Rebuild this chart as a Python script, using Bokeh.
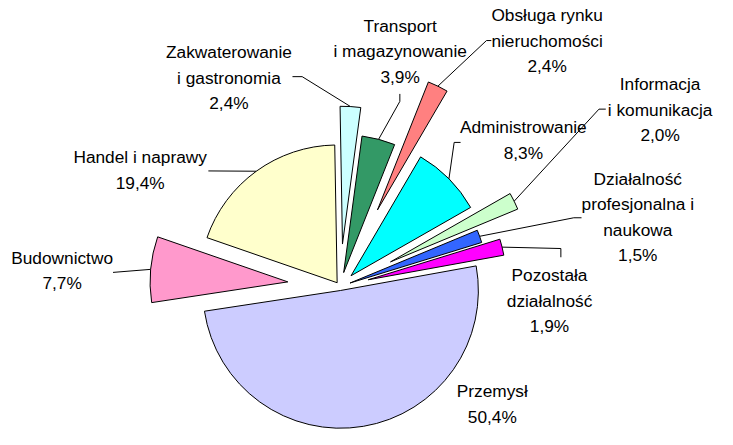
import numpy as np
from bokeh.plotting import figure
from bokeh.models import Range1d, ColumnDataSource
from bokeh.core.properties import value
from bokeh.embed import file_html
from bokeh.resources import INLINE

# ---------------- data (clockwise from 12 o'clock) ----------------
categories = [
    "Zakwaterowanie\ni gastronomia",
    "Transport\ni magazynowanie",
    "Obsługa rynku\nnieruchomości",
    "Administrowanie",
    "Informacja\ni komunikacja",
    "Działalność\nprofesjonalna i\nnaukowa",
    "Pozostała\ndziałalność",
    "Przemysł",
    "Budownictwo",
    "Handel i naprawy",
]
shares = [2.4, 3.9, 2.4, 8.3, 2.0, 1.5, 1.9, 50.4, 7.7, 19.4]

# ---------------- styles / layout ----------------
colors = ["#CCFFFF", "#339966", "#FF8080", "#00FFFF", "#CCFFCC",
          "#3366FF", "#FF00FF", "#CCCCFF", "#FF99CC", "#FFFFCC"]
explode = [44, 15, 88, 16, 58, 11, 30, 4, 54, 5]   # offset of each slice (px)
RADIUS = 142
FIRST_ANGLE = -1.0          # degrees clockwise from 12 o'clock
CENTER = (349, 297)         # pie centre in picture pixels
S = 0.97                    # picture px -> screen px
W, H = 717, 429
ORIGIN = (-1, 2)            # picture px shown at the top-left corner

# label anchors: centre x / middle of first line y (picture px)
label_pos = [(234.5, 55.5), (411, 27.8), (562.5, 17), (538, 132.5),
             (679, 88.3), (656, 185.8), (565, 285), (506, 405),
             (62.5, 267), (143, 163.7)]
# leader points from the text side (picture px); the slice end is computed
leader_pts = [[(300, 80.5), (310, 80.5)],
              [(410.7, 98.3), (410.7, 106)],
              [(505, 43.3), (500, 43.3)],
              [(473.3, 148.3), (466.7, 148.3)],
              [(623, 114), (616, 114)],
              [(598, 226), (590, 226)],
              [(576.7, 266.7), (576.7, 257.7)],
              [],
              [(115, 282.3)],
              [(213.3, 177.7)]]
LINE_STEP = 26.3
FONT = "Liberation Sans"
FONT_SIZE = 17.8 * S


def to_data(px, py):
    return px - CENTER[0], CENTER[1] - py


vals = np.array(shares, dtype=float)
bounds = FIRST_ANGLE + np.concatenate([[0], np.cumsum(vals)]) / vals.sum() * 360.0
theta_a, theta_b = bounds[:-1], bounds[1:]
start = np.radians(90 - theta_b)
end = np.radians(90 - theta_a)
mid = np.radians(90 - (theta_a + theta_b) / 2)
ex = np.array(explode, dtype=float)
cx = ex * np.cos(mid)
cy = ex * np.sin(mid)

x0 = ORIGIN[0] - CENTER[0]
x1 = x0 + W / S
y1 = CENTER[1] - ORIGIN[1]
y0 = y1 - H / S

p = figure(width=W, height=H, x_range=Range1d(x0, x1), y_range=Range1d(y0, y1),
           x_axis_type=None, y_axis_type=None, toolbar_location=None,
           output_backend="svg", min_border=0, outline_line_color=None,
           background_fill_color="white", border_fill_color="white")
p.xgrid.visible = False
p.ygrid.visible = False

src = ColumnDataSource(dict(x=cx, y=cy, start=start, end=end, color=colors))
p.wedge(x="x", y="y", radius=RADIUS, start_angle="start", end_angle="end",
        fill_color="color", line_color="black", line_width=1, source=src)

# leader lines
for i, pts in enumerate(leader_pts):
    if not pts:
        continue
    xs = [to_data(*q)[0] for q in pts]
    ys = [to_data(*q)[1] for q in pts]
    r = ex[i] + RADIUS
    xs.append(r * np.cos(mid[i]))
    ys.append(r * np.sin(mid[i]))
    p.line(xs, ys, line_color="black", line_width=1)

# labels
tx, ty, tt = [], [], []
for i, name in enumerate(categories):
    pct = f"{shares[i]:.1f}".replace(".", ",") + "%"
    lines = name.split("\n") + [pct]
    lx, ly = label_pos[i]
    for k, ln in enumerate(lines):
        X, Y = to_data(lx, ly + k * LINE_STEP)
        tx.append(X)
        ty.append(Y)
        tt.append(ln)
p.text(x=tx, y=ty, text=tt, text_align="center", text_baseline="middle",
       text_font=value(FONT), text_font_size=f"{FONT_SIZE:.1f}px",
       text_color="#000000")

open("out.html", "w").write(file_html(p, INLINE))
